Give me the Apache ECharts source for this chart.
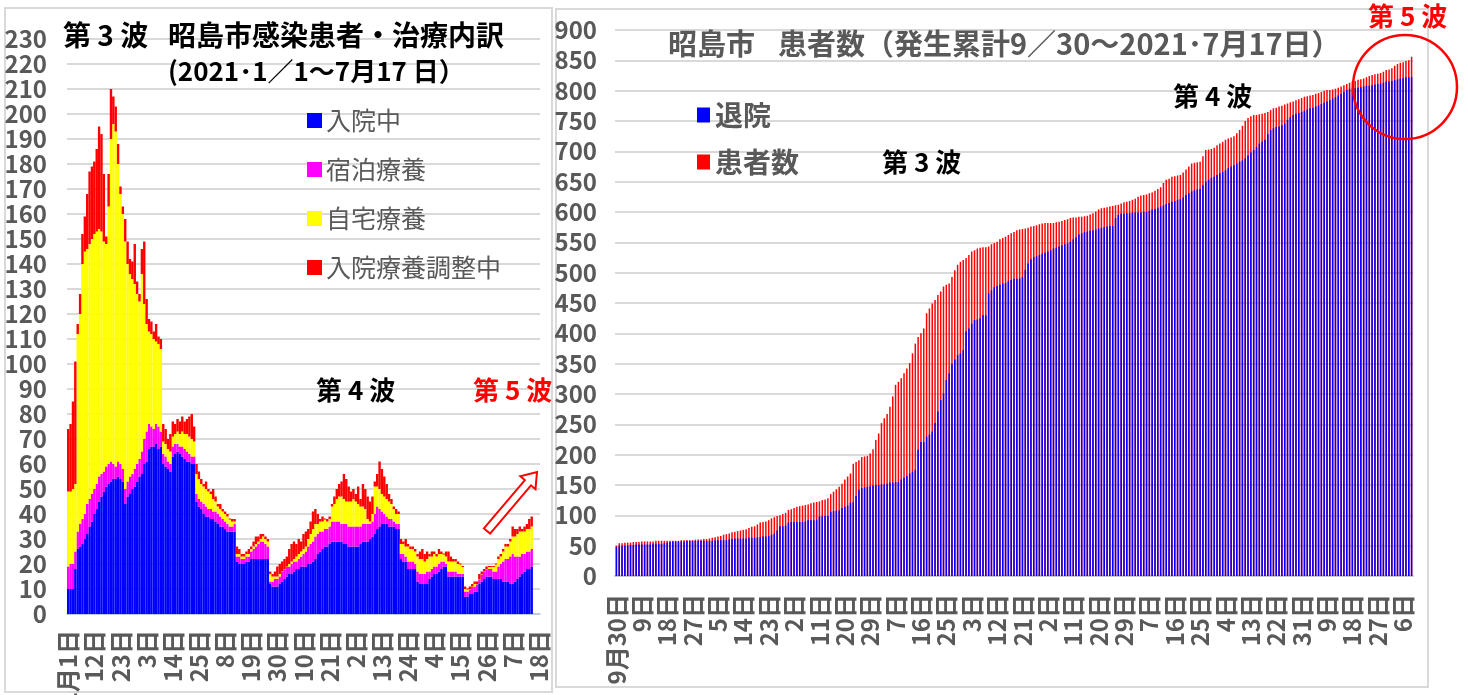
<!DOCTYPE html>
<html>
<head>
<meta charset="utf-8">
<script src="https://cdn.jsdelivr.net/npm/echarts@6/dist/echarts.min.js"></script>
<style>
html, body { margin: 0; padding: 0; background: #fff; }
#main { width: 1468px; height: 695px; }
</style>
</head>
<body>
<div id="main"></div>
<script>
// 左：第3波 内訳 (2021/1/1〜)
var nyuin = [
  10, 10, 10, 18, 26, 27, 28, 30, 32, 35,
  37, 40, 42, 45, 47, 49, 51, 52, 53, 54,
  54, 55, 54, 53, 44, 47, 48, 50, 51, 53,
  55, 56, 60, 61, 66, 67, 67, 68, 66, 67,
  60, 59, 58, 57, 63, 64, 65, 64, 63, 62,
  61, 61, 60, 60, 45, 43, 42, 40, 39, 39,
  38, 38, 37, 36, 35, 35, 34, 33, 33, 33,
  33, 21, 20, 20, 20, 21, 21, 22, 22, 22,
  22, 22, 22, 22, 22, 12, 11, 11, 11, 12,
  13, 14, 15, 16, 16, 17, 18, 18, 19, 19,
  19, 20, 20, 21, 22, 24, 25, 26, 27, 27,
  28, 29, 29, 29, 29, 29, 28, 28, 27, 27,
  27, 27, 27, 28, 29, 29, 29, 30, 31, 32,
  34, 35, 36, 36, 36, 35, 35, 35, 34, 34,
  22, 21, 21, 18, 18, 18, 18, 13, 12, 12,
  12, 12, 14, 15, 16, 16, 17, 18, 19, 19,
  15, 15, 15, 15, 15, 15, 15, 7, 7, 8,
  8, 9, 9, 12, 13, 14, 15, 15, 15, 14,
  14, 14, 14, 13, 13, 13, 12, 12, 13, 14,
  15, 16, 17, 18, 18, 19
]
var shukuhaku = [
  9, 10, 10, 7, 7, 9, 10, 10, 12, 11,
  11, 10, 10, 10, 9, 8, 8, 8, 8, 6,
  5, 6, 6, 5, 6, 6, 7, 6, 7, 7,
  7, 9, 10, 12, 10, 8, 7, 8, 9, 6,
  4, 4, 3, 3, 4, 4, 3, 3, 4, 4,
  4, 3, 3, 3, 3, 3, 3, 4, 4, 3,
  4, 3, 4, 4, 4, 3, 3, 3, 2, 2,
  3, 2, 3, 2, 2, 2, 2, 3, 4, 5,
  6, 7, 7, 6, 5, 1, 2, 3, 3, 3,
  4, 4, 4, 3, 4, 4, 3, 4, 4, 5,
  6, 7, 8, 8, 9, 8, 8, 7, 7, 7,
  7, 8, 8, 8, 8, 7, 8, 8, 8, 8,
  8, 8, 8, 7, 7, 7, 7, 6, 6, 8,
  9, 7, 5, 4, 3, 3, 3, 2, 2, 2,
  2, 3, 2, 3, 3, 3, 2, 4, 4, 4,
  4, 5, 3, 3, 3, 3, 3, 3, 2, 1,
  2, 2, 2, 2, 1, 1, 1, 2, 2, 2,
  3, 2, 3, 2, 3, 3, 3, 3, 3, 3,
  3, 5, 6, 8, 9, 9, 11, 12, 10, 9,
  8, 8, 7, 7, 7, 7
]
var jitaku = [
  30, 29, 30, 27, 79, 84, 102, 105, 102, 102,
  102, 102, 101, 99, 97, 92, 89, 103, 129, 136,
  134, 119, 108, 102, 99, 87, 81, 78, 74, 68,
  63, 71, 54, 43, 37, 37, 36, 33, 33, 33,
  5, 5, 5, 5, 4, 4, 5, 5, 6, 6,
  7, 7, 7, 6, 8, 8, 7, 7, 7, 7,
  6, 5, 4, 3, 3, 3, 3, 3, 3, 2,
  1, 1, 1, 1, 1, 1, 1, 1, 1, 1,
  1, 1, 2, 2, 2, 3, 2, 1, 1, 1,
  0, 0, 0, 1, 1, 1, 2, 2, 2, 2,
  2, 3, 4, 5, 5, 4, 4, 4, 4, 3,
  3, 6, 7, 9, 10, 11, 10, 9, 10, 10,
  11, 10, 9, 8, 7, 6, 2, 1, 3, 11,
  8, 8, 7, 7, 7, 7, 6, 5, 4, 4,
  4, 4, 4, 6, 5, 5, 5, 6, 6, 6,
  5, 5, 6, 5, 5, 4, 4, 3, 3, 3,
  4, 4, 4, 4, 4, 4, 3, 1, 1, 0,
  0, 1, 0, 0, 0, 0, 0, 1, 1, 2,
  3, 3, 3, 4, 5, 5, 6, 7, 8, 9,
  10, 9, 9, 9, 9, 9
]
var chosei = [
  25, 27, 35, 49, 4, 8, 12, 14, 22, 29,
  29, 29, 33, 41, 39, 27, 3, 13, 20, 11,
  10, 8, 3, 3, 9, 9, 6, 7, 16, 5,
  3, 10, 25, 10, 5, 5, 3, 7, 3, 4,
  7, 6, 4, 7, 6, 4, 5, 5, 6, 5,
  6, 8, 10, 6, 4, 3, 2, 1, 3, 1,
  1, 4, 2, 1, 2, 1, 1, 1, 0, 1,
  1, 3, 2, 1, 1, 1, 2, 1, 2, 3,
  2, 2, 1, 1, 1, 1, 1, 2, 4, 4,
  4, 4, 4, 6, 7, 7, 5, 6, 4, 6,
  6, 4, 5, 7, 6, 4, 1, 2, 0, 1,
  1, 1, 3, 4, 5, 6, 10, 9, 6, 4,
  4, 3, 7, 3, 9, 8, 9, 8, 7, 2,
  5, 11, 10, 8, 6, 3, 2, 1, 2, 1,
  2, 1, 3, 1, 1, 1, 1, 1, 3, 4,
  3, 3, 1, 2, 1, 1, 2, 1, 0, 2,
  4, 2, 1, 1, 1, 0, 0, 1, 0, 1,
  1, 1, 1, 2, 1, 1, 1, 0, 0, 0,
  0, 1, 1, 1, 1, 1, 1, 4, 3, 2,
  2, 1, 2, 2, 4, 4
]

// 右：累計 (9/30〜)
var kanja = [
  50, 54, 54, 55, 55, 55, 56, 56, 56, 57,
  57, 57, 57, 57, 58, 58, 58, 58, 58, 58,
  58, 58, 58, 59, 59, 59, 59, 59, 60, 60,
  60, 61, 61, 62, 63, 64, 65, 66, 68, 69,
  70, 72, 73, 74, 75, 76, 77, 79, 81, 82,
  85, 88, 89, 90, 92, 95, 97, 99, 100, 102,
  104, 109, 110, 112, 114, 115, 116, 117, 118, 120,
  121, 122, 123, 125, 126, 128, 135, 139, 143, 147,
  152, 159, 164, 169, 185, 188, 191, 196, 197, 198,
  202, 209, 224, 235, 252, 260, 267, 279, 296, 315,
  320, 326, 334, 342, 351, 367, 383, 394, 400, 408,
  433, 441, 449, 455, 463, 469, 477, 480, 482, 493,
  504, 513, 518, 521, 524, 529, 535, 537, 540, 541,
  542, 542, 543, 547, 549, 551, 555, 557, 559, 562,
  565, 567, 570, 571, 572, 573, 574, 576, 577, 578,
  580, 581, 582, 582, 582, 582, 583, 584, 585, 587,
  588, 590, 591, 591, 592, 592, 593, 594, 596, 598,
  601, 604, 606, 607, 608, 609, 610, 611, 612, 614,
  616, 617, 618, 620, 622, 625, 627, 628, 629, 631,
  632, 635, 638, 641, 648, 653, 655, 658, 659, 660,
  661, 665, 670, 675, 680, 681, 682, 683, 692, 702,
  703, 704, 706, 710, 713, 716, 719, 721, 723, 725,
  730, 735, 742, 750, 755, 758, 760, 760, 761, 762,
  763, 765, 768, 771, 772, 774, 775, 777, 779, 781,
  782, 784, 786, 788, 790, 791, 792, 793, 795, 796,
  798, 800, 801, 801, 802, 803, 805, 807, 809, 811,
  813, 815, 816, 818, 819, 820, 822, 824, 826, 827,
  828, 829, 831, 834, 835, 837, 841, 844, 846, 847,
  849, 850, 856
]
var taiin = [
  48, 49, 49, 50, 50, 51, 51, 52, 52, 52,
  52, 52, 52, 53, 53, 53, 53, 54, 55, 56,
  57, 57, 57, 57, 57, 58, 58, 58, 58, 58,
  58, 58, 58, 58, 58, 59, 59, 59, 59, 59,
  60, 61, 62, 62, 62, 62, 62, 63, 63, 63,
  64, 64, 65, 65, 66, 68, 70, 75, 82, 82,
  83, 88, 89, 89, 89, 89, 89, 90, 92, 92,
  92, 93, 98, 98, 99, 99, 106, 107, 108, 108,
  112, 114, 116, 121, 122, 132, 142, 145, 146, 147,
  148, 149, 150, 150, 151, 151, 152, 154, 154, 155,
  155, 159, 162, 165, 169, 172, 175, 208, 221, 221,
  230, 233, 238, 252, 271, 290, 301, 323, 334, 350,
  357, 364, 367, 372, 403, 408, 416, 422, 423, 425,
  430, 430, 466, 471, 476, 478, 480, 482, 483, 486,
  488, 490, 490, 491, 493, 505, 515, 522, 526, 527,
  529, 531, 533, 535, 537, 540, 541, 543, 545, 547,
  548, 551, 555, 558, 563, 565, 567, 568, 569, 570,
  571, 573, 574, 575, 576, 577, 577, 590, 595, 597,
  597, 598, 598, 599, 599, 599, 599, 600, 600, 602,
  604, 605, 607, 609, 611, 613, 615, 617, 618, 620,
  621, 624, 628, 631, 634, 636, 637, 638, 644, 650,
  653, 656, 658, 661, 664, 666, 669, 672, 675, 677,
  680, 683, 685, 688, 693, 698, 702, 707, 713, 716,
  719, 728, 735, 738, 740, 741, 743, 746, 752, 756,
  760, 762, 763, 765, 767, 769, 771, 772, 774, 776,
  778, 780, 782, 784, 787, 789, 792, 795, 798, 801,
  803, 804, 804, 805, 806, 807, 808, 808, 809, 810,
  811, 812, 813, 815, 815, 816, 817, 819, 820, 821,
  822, 822, 822
]

// 日付ラベル（先頭だけ月付き）
function dayLabels (y, m, d, n, first) {
  var out = []
  for (var k = 0; k < n; k++) {
    var dt = new Date(y, m - 1, d + k)
    out.push(k === 0 ? first : dt.getDate() + '日')
  }
  return out
}
var daysLeft = dayLabels(2021, 1, 1, 199, '1月1日')
var daysRight = dayLabels(2020, 9, 30, 283, '9月30日')

var FONT = "'Noto Sans CJK JP', 'Noto Sans', sans-serif"
var GRAY = '#595959'

var myChart = echarts.init(document.getElementById('main'))

function axisLabel (interval, margin) {
  return {
    interval: interval,
    rotate: 90,
    margin: margin,
    color: GRAY,
    fontSize: 24,
    fontWeight: 'bold',
    fontFamily: FONT
  }
}
function yLabel (margin) {
  return { margin: margin, color: GRAY, fontSize: 24, fontWeight: 'bold', fontFamily: FONT }
}
function stackBar (name, data, color) {
  return {
    name: name,
    type: 'bar',
    stack: 'left',
    xAxisIndex: 0,
    yAxisIndex: 0,
    barCategoryGap: '0%',
    // 隙間が白く抜けないように同色の縁取り
    itemStyle: { color: color, borderColor: color, borderWidth: 1.2 },
    data: data
  }
}
function label (text, x, y, size, color) {
  return {
    type: 'text',
    x: x,
    y: y,
    z: 50,
    style: {
      text: text,
      fill: color,
      font: 'bold ' + size + 'px ' + FONT,
      align: 'left',
      verticalAlign: 'middle',
      textVerticalAlign: 'middle'
    }
  }
}

var option = {
  animation: false,
  backgroundColor: '#fff',
  grid: [
    { left: 67, top: 39, width: 473, height: 575, outerBoundsMode: 'none' },
    { left: 615, top: 30, width: 798, height: 546, outerBoundsMode: 'none' }
  ],
  legend: [
    {
      data: ['入院中', '宿泊療養', '自宅療養', '入院療養調整中'],
      orient: 'vertical',
      left: 307,
      top: 108,
      padding: 0,
      icon: 'rect',
      itemWidth: 13,
      itemHeight: 13,
      itemGap: 24,
      textStyle: { fontSize: 25, color: GRAY, fontFamily: FONT }
    },
    {
      data: ['退院', '患者数'],
      orient: 'vertical',
      left: 697,
      top: 101,
      padding: 0,
      icon: 'rect',
      itemWidth: 13,
      itemHeight: 15,
      itemGap: 19,
      textStyle: { fontSize: 28, color: GRAY, fontWeight: 'bold', fontFamily: FONT }
    }
  ],
  xAxis: [
    {
      type: 'category',
      gridIndex: 0,
      data: daysLeft,
      axisTick: { show: false },
      axisLine: { lineStyle: { color: '#b8c2ea', width: 1.5 } },
      axisLabel: axisLabel(10, 16)
    },
    {
      type: 'category',
      gridIndex: 1,
      data: daysRight,
      axisTick: { show: false },
      axisLine: { lineStyle: { color: '#c8c8c8', width: 2 } },
      axisLabel: axisLabel(8, 18)
    }
  ],
  yAxis: [
    {
      type: 'value',
      gridIndex: 0,
      min: 0,
      max: 230,
      interval: 10,
      axisLabel: yLabel(20),
      splitLine: { lineStyle: { color: '#d9d9d9', width: 2 } }
    },
    {
      type: 'value',
      gridIndex: 1,
      min: 0,
      max: 900,
      interval: 50,
      axisLabel: yLabel(18),
      splitLine: { lineStyle: { color: '#d9d9d9', width: 2 } }
    }
  ],
  series: [
    stackBar('入院中', nyuin, '#0000ff'),
    stackBar('宿泊療養', shukuhaku, '#ff00ff'),
    stackBar('自宅療養', jitaku, '#ffff00'),
    stackBar('入院療養調整中', chosei, '#ff0000'),
    {
      name: '患者数',
      type: 'bar',
      xAxisIndex: 1,
      yAxisIndex: 1,
      barWidth: 1.5,
      barGap: '-100%',
      itemStyle: { color: '#ff0000' },
      data: kanja
    },
    {
      name: '退院',
      type: 'bar',
      xAxisIndex: 1,
      yAxisIndex: 1,
      barWidth: 1.5,
      barGap: '-100%',
      itemStyle: { color: '#0000ff' },
      data: taiin
    }
  ],
  graphic: [
    // 枠
    { type: 'rect', shape: { x: 5, y: 8, width: 547, height: 684 }, style: { fill: 'none', stroke: '#d9d9d9', lineWidth: 2 } },
    { type: 'rect', shape: { x: 556, y: 9, width: 872, height: 678 }, style: { fill: 'none', stroke: '#d9d9d9', lineWidth: 2 } },
    // 左タイトル
    label('第 3 波', 63, 35, 28, '#000'),
    label('昭島市感染患者・治療内訳', 168, 35, 28, '#000'),
    label('(2021･1／1～7月17 日）', 168, 71, 26, '#000'),
    label('第 4 波', 316, 390, 26, '#000'),
    label('第 5 波', 473, 390, 26, '#ff0000'),
    // 右タイトル
    label('昭島市', 668, 44, 29, GRAY),
    label('患者数（発生累計9／30～2021･7月17日）', 778, 44, 29, GRAY),
    label('第 3 波', 882, 162, 26, '#000'),
    label('第 4 波', 1173, 96, 26, '#000'),
    label('第 5 波', 1368, 16, 26, '#ff0000'),
    // 矢印
    {
      type: 'polygon',
      z: 60,
      shape: { points: [[483.9, 528.4], [524.9, 480.1], [520.3, 476.2], [537, 472], [535.5, 489.2], [531.0, 485.3], [490.1, 533.6]] },
      style: { fill: '#fff', stroke: '#ff0000', lineWidth: 2 }
    },
    // 円
    { type: 'circle', z: 60, shape: { cx: 1405, cy: 87, r: 52 }, style: { fill: 'none', stroke: '#ff0000', lineWidth: 2.5 } }
  ]
}

myChart.setOption(option)
</script>
</body>
</html>
